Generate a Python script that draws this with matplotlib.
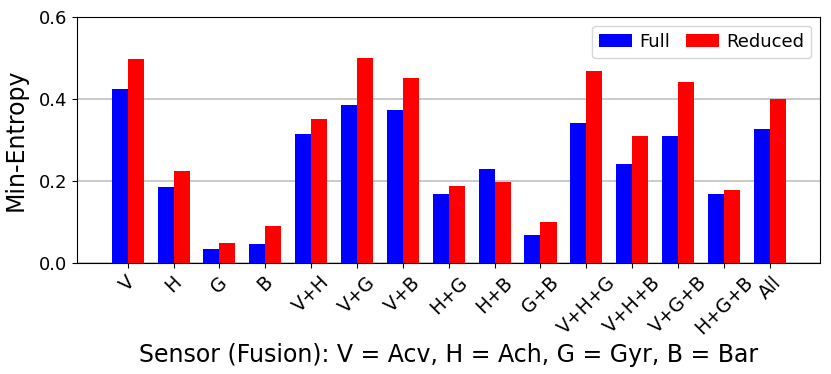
import matplotlib.pyplot as plt
import numpy as np

categories = ["V", "H", "G", "B", "V+H", "V+G", "V+B", "H+G", "H+B", "G+B",
              "V+H+G", "V+H+B", "V+G+B", "H+G+B", "All"]
full = [0.425, 0.184, 0.034, 0.047, 0.315, 0.385, 0.372, 0.167, 0.228, 0.068,
        0.342, 0.241, 0.310, 0.167, 0.327]
reduced = [0.498, 0.223, 0.049, 0.089, 0.351, 0.500, 0.451, 0.188, 0.198, 0.100,
           0.467, 0.310, 0.441, 0.179, 0.400]

fig = plt.figure(figsize=(8.31, 3.74), dpi=100)
ax = fig.add_axes([0.093, 0.297, 0.894, 0.658])

x = np.arange(len(categories))
w = 0.35
ax.bar(x - w / 2, full, w, color="blue", label="Full", zorder=3)
ax.bar(x + w / 2, reduced, w, color="red", label="Reduced", zorder=3)

ax.set_xlim(-1.1, len(categories) - 1 + 1.1)
ax.set_ylim(0, 0.6)
ax.set_yticks([0.0, 0.2, 0.4, 0.6])
ax.yaxis.grid(True, color="#c0c0c0", linewidth=1.2, zorder=0)
ax.set_xticks(x)
ax.set_xticklabels(categories, rotation=45, fontsize=13.5)
ax.tick_params(axis="y", labelsize=13)
ax.set_ylabel("Min-Entropy", fontsize=17, labelpad=8)
ax.set_xlabel("Sensor (Fusion): V = Acv, H = Ach, G = Gyr, B = Bar", fontsize=17)
ax.legend(loc="upper right", ncol=2, fontsize=13, handlelength=1.8,
          columnspacing=0.9, handletextpad=0.4)

fig.savefig("out.png", dpi=100)
